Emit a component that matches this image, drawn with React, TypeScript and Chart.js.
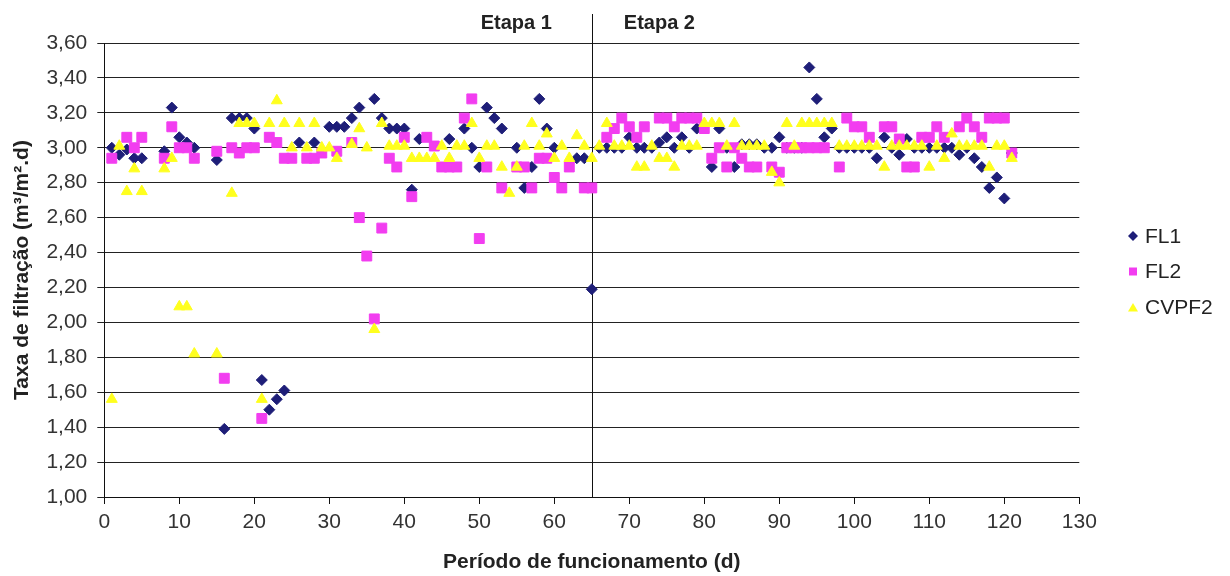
import React, { useEffect, useRef } from 'react';
import { Chart, registerables } from 'chart.js';

Chart.register(...registerables);

const FONT = '"Liberation Sans", Arial, Helvetica, sans-serif';

// ---- data ----
const seriesNames = ['FL1', 'FL2', 'CVPF2'];
const seriesColors = ['#1e1e78', '#f23df0', '#ffff1e'];

const fl1Days = [1, 2, 3, 4, 5, 8, 9, 10, 11, 12, 15, 16, 17, 18, 19, 20, 21, 22, 23, 24, 26, 28, 30, 31, 32, 33, 34, 36, 37, 38, 39, 40, 41, 42, 46, 48, 49, 50, 51, 52, 53, 55, 56, 57, 58, 59, 60, 63, 64, 65, 66, 67, 68, 69, 70, 71, 72, 73, 74, 75, 76, 77, 78, 79, 81, 82, 83, 84, 85, 86, 87, 88, 89, 90, 91, 92, 93, 94, 95, 96, 97, 98, 99, 100, 101, 102, 103, 104, 105, 106, 107, 108, 109, 110, 111, 112, 113, 114, 115, 116, 117, 118, 119, 120, 121];
const fl1Values = [3.00, 2.96, 2.99, 2.94, 2.94, 2.98, 3.23, 3.06, 3.03, 3.00, 2.93, 1.39, 3.17, 3.17, 3.17, 3.11, 1.67, 1.50, 1.56, 1.61, 3.03, 3.03, 3.12, 3.12, 3.12, 3.17, 3.23, 3.28, 3.17, 3.11, 3.11, 3.11, 2.76, 3.05, 3.05, 3.11, 3.00, 2.89, 3.23, 3.17, 3.11, 3.00, 2.77, 2.89, 3.28, 3.11, 3.00, 2.94, 2.94, 2.19, 3.00, 3.00, 3.00, 3.00, 3.06, 3.00, 3.00, 3.00, 3.03, 3.06, 3.00, 3.06, 3.00, 3.11, 2.89, 3.11, 3.00, 2.89, 3.02, 3.02, 3.02, 3.00, 3.00, 3.06, 3.00, 3.00, 3.00, 3.46, 3.28, 3.06, 3.11, 3.00, 3.00, 3.00, 3.00, 3.00, 2.94, 3.06, 3.00, 2.96, 3.05, 3.00, 3.00, 3.00, 3.00, 3.00, 3.00, 2.96, 3.00, 2.94, 2.89, 2.77, 2.83, 2.71, 2.97];

const fl2Days = [1, 3, 4, 5, 8, 9, 10, 11, 12, 15, 16, 17, 18, 19, 20, 21, 22, 23, 24, 25, 27, 28, 29, 31, 33, 34, 35, 36, 37, 38, 39, 40, 41, 43, 44, 45, 46, 47, 48, 49, 50, 51, 53, 55, 56, 57, 58, 59, 60, 61, 62, 64, 65, 67, 68, 69, 70, 71, 72, 74, 75, 76, 77, 78, 79, 80, 81, 82, 83, 84, 85, 86, 87, 89, 90, 91, 92, 93, 94, 95, 96, 98, 99, 100, 101, 102, 104, 105, 106, 107, 108, 109, 110, 111, 112, 114, 115, 116, 117, 118, 119, 120, 121];
const fl2Values = [2.94, 3.06, 3.00, 3.06, 2.94, 3.12, 3.00, 3.00, 2.94, 2.98, 1.68, 3.00, 2.97, 3.00, 3.00, 1.45, 3.06, 3.03, 2.94, 2.94, 2.94, 2.94, 2.97, 2.98, 3.03, 2.60, 2.38, 2.02, 2.54, 2.94, 2.89, 3.06, 2.72, 3.06, 3.01, 2.89, 2.89, 2.89, 3.17, 3.28, 2.48, 2.89, 2.77, 2.89, 2.89, 2.77, 2.94, 2.94, 2.83, 2.77, 2.89, 2.77, 2.77, 3.06, 3.11, 3.17, 3.12, 3.06, 3.12, 3.17, 3.17, 3.12, 3.17, 3.17, 3.17, 3.11, 2.94, 3.00, 2.89, 3.00, 2.94, 2.89, 2.89, 2.89, 2.86, 3.00, 3.00, 3.00, 3.00, 3.00, 3.00, 2.89, 3.17, 3.12, 3.12, 3.06, 3.12, 3.12, 3.05, 2.89, 2.89, 3.06, 3.06, 3.12, 3.06, 3.12, 3.17, 3.12, 3.06, 3.17, 3.17, 3.17, 2.97];

const cvpf2Days = [1, 2, 3, 4, 5, 8, 9, 10, 11, 12, 15, 17, 18, 19, 20, 21, 22, 23, 24, 25, 26, 27, 28, 29, 30, 31, 33, 34, 35, 36, 37, 38, 39, 40, 41, 42, 43, 44, 45, 46, 47, 48, 49, 50, 51, 52, 53, 54, 55, 56, 57, 58, 59, 60, 61, 62, 63, 64, 65, 66, 67, 68, 69, 70, 71, 72, 73, 74, 75, 76, 77, 78, 79, 80, 81, 82, 83, 84, 85, 86, 87, 88, 89, 90, 91, 92, 93, 94, 95, 96, 97, 98, 99, 100, 101, 102, 103, 104, 105, 106, 107, 108, 109, 110, 111, 112, 113, 114, 115, 116, 117, 118, 119, 120, 121];
const cvpf2Values = [1.56, 3.01, 2.75, 2.88, 2.75, 2.88, 2.94, 2.09, 2.09, 1.82, 1.82, 2.74, 3.14, 3.14, 3.14, 1.56, 3.14, 3.27, 3.14, 3.00, 3.14, 3.00, 3.14, 3.00, 3.00, 2.94, 3.02, 3.11, 3.00, 1.96, 3.14, 3.01, 3.01, 3.01, 2.94, 2.94, 2.94, 2.94, 3.01, 2.94, 3.01, 3.01, 3.14, 2.94, 3.01, 3.01, 2.89, 2.74, 2.89, 3.01, 3.14, 3.01, 3.08, 2.94, 3.01, 2.94, 3.07, 3.01, 2.94, 3.01, 3.14, 3.01, 3.01, 3.01, 2.89, 2.89, 3.01, 2.94, 2.94, 2.89, 3.01, 3.01, 3.01, 3.14, 3.14, 3.14, 3.01, 3.14, 3.01, 3.01, 3.01, 3.01, 2.86, 2.80, 3.14, 3.01, 3.14, 3.14, 3.14, 3.14, 3.14, 3.01, 3.01, 3.01, 3.01, 3.01, 3.01, 2.89, 3.01, 3.01, 3.01, 3.01, 3.01, 2.89, 3.01, 2.94, 3.08, 3.01, 3.01, 3.01, 3.01, 2.89, 3.01, 3.01, 2.94];

const xMin = 0;
const xMax = 130;
const xStep = 10;
const yMin = 1.0;
const yMax = 3.6;
const yStep = 0.2;
const stageDay = 65;
const stageLabels = ['Etapa 1', 'Etapa 2'];
const xTitle = 'Período de funcionamento (d)';
const yTitle = 'Taxa de filtração (m³/m².d)';

const toPoints = (days: number[], values: number[]) => days.map((d, i) => ({ x: d, y: values[i] }));

function drawMarker(ctx: CanvasRenderingContext2D, kind: number, x: number, y: number, color: string) {
  ctx.fillStyle = color;
  ctx.beginPath();
  if (kind === 0) {
    const r = 5;
    ctx.moveTo(x - r, y);
    ctx.lineTo(x, y - r);
    ctx.lineTo(x + r, y);
    ctx.lineTo(x, y + r);
  } else if (kind === 1) {
    ctx.rect(x - 4, y - 4, 8, 8);
  } else {
    ctx.moveTo(x, y - 4.5);
    ctx.lineTo(x + 5, y + 4);
    ctx.lineTo(x - 5, y + 4);
  }
  ctx.closePath();
  ctx.fill();
}

const overlayPlugin = {
  id: 'overlay',
  beforeDatasetsDraw(chart: any) {
    const { ctx, chartArea, scales } = chart;
    const px = Math.round(scales.x.getPixelForValue(stageDay)) + 0.5;
    ctx.save();
    ctx.strokeStyle = '#111';
    ctx.lineWidth = 1;
    ctx.beginPath();
    ctx.moveTo(px, 14);
    ctx.lineTo(px, chartArea.bottom);
    ctx.stroke();
    ctx.restore();
  },
  afterDraw(chart: any) {
    const { ctx, scales } = chart;
    const px = scales.x.getPixelForValue(stageDay);
    ctx.save();
    ctx.font = 'bold 20px ' + FONT;
    ctx.fillStyle = '#222';
    ctx.textBaseline = 'middle';
    ctx.textAlign = 'right';
    ctx.fillText(stageLabels[0], px - 40, 23);
    ctx.textAlign = 'left';
    ctx.fillText(stageLabels[1], px + 32, 23);

    // legend
    const legendX = 1133;
    const legendY = [236, 271.5, 307.5];
    ctx.font = '21px ' + FONT;
    ctx.fillStyle = '#222';
    ctx.textAlign = 'left';
    seriesNames.forEach((name, i) => {
      drawMarker(ctx, i, legendX, legendY[i], seriesColors[i]);
      ctx.fillStyle = '#222';
      ctx.fillText(name, legendX + 12, legendY[i] + 1);
    });
    ctx.restore();
  },
};

export default function App() {
  const canvasRef = useRef<HTMLCanvasElement | null>(null);

  useEffect(() => {
    const canvas = canvasRef.current;
    if (!canvas) return;
    const chart = new Chart(canvas, {
      type: 'scatter',
      data: {
        datasets: [
          {
            label: seriesNames[0],
            data: toPoints(fl1Days, fl1Values),
            pointStyle: 'rectRot',
            pointRadius: 5.5,
            backgroundColor: seriesColors[0],
            borderColor: seriesColors[0],
            borderWidth: 1,
            order: 3,
          },
          {
            label: seriesNames[1],
            data: toPoints(fl2Days, fl2Values),
            pointStyle: 'rect',
            pointRadius: 7,
            backgroundColor: seriesColors[1],
            borderColor: seriesColors[1],
            borderWidth: 1,
            order: 2,
          },
          {
            label: seriesNames[2],
            data: toPoints(cvpf2Days, cvpf2Values),
            pointStyle: 'triangle',
            pointRadius: 6.3,
            backgroundColor: seriesColors[2],
            borderColor: seriesColors[2],
            borderWidth: 1,
            order: 1,
          },
        ],
      },
      options: {
        animation: false,
        responsive: false,
        maintainAspectRatio: false,
        devicePixelRatio: 1,
        events: [],
        layout: { padding: { top: 43, right: 150.7, left: 0, bottom: 0 } },
        plugins: {
          legend: { display: false },
          tooltip: { enabled: false },
        },
        scales: {
          x: {
            type: 'linear',
            min: xMin,
            max: xMax,
            ticks: {
              stepSize: xStep,
              color: '#333',
              font: { family: FONT, size: 21 },
              padding: 6,
              maxRotation: 0,
              autoSkip: false,
            },
            grid: { drawOnChartArea: false, drawTicks: true, tickLength: 7, color: '#111', lineWidth: 1 },
            border: { display: true, color: '#111', width: 1 },
            title: {
              display: true,
              text: xTitle,
              color: '#222',
              font: { family: FONT, size: 21, weight: 'bold' },
              padding: { top: 0, bottom: 1 },
            },
            afterFit: (scale: any) => {
              scale.height = 79;
            },
          },
          y: {
            type: 'linear',
            min: yMin,
            max: yMax,
            ticks: {
              stepSize: yStep,
              color: '#333',
              font: { family: FONT, size: 21 },
              padding: 10,
              callback: (v: any) => Number(v).toFixed(2).replace('.', ','),
            },
            grid: { drawTicks: true, tickLength: 7, color: '#222', lineWidth: 1 },
            border: { display: true, color: '#111', width: 1 },
            title: {
              display: true,
              text: yTitle,
              color: '#222',
              font: { family: FONT, size: 21, weight: 'bold' },
              padding: { top: 10, bottom: 0 },
            },
            afterFit: (scale: any) => {
              scale.width = 104.3;
            },
          },
        },
      },
      plugins: [overlayPlugin],
    } as any);
    return () => chart.destroy();
  }, []);

  return (
    <div style={{ position: 'fixed', left: 0, top: 0, width: 1230, height: 576, background: '#fff' }}>
      <canvas ref={canvasRef} width={1230} height={576} style={{ display: 'block', width: 1230, height: 576 }} />
    </div>
  );
}
